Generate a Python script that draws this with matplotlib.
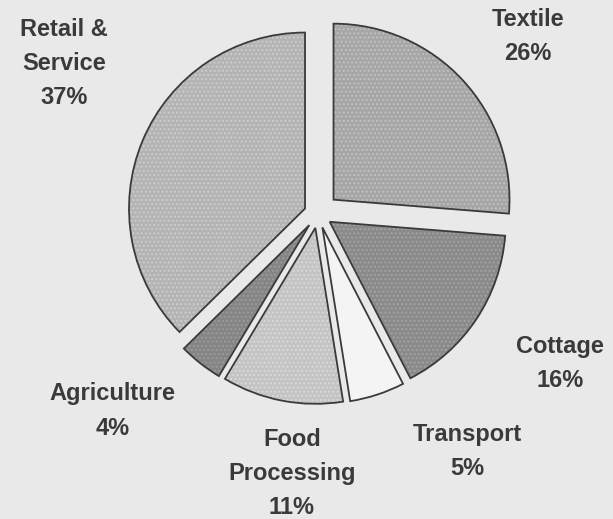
import matplotlib
matplotlib.use("Agg")
import matplotlib.pyplot as plt

# Sector shares (percent), clockwise from 12 o'clock
sectors = ["Textile", "Cottage", "Transport", "Food\nProcessing", "Agriculture", "Retail &\nService"]
shares = [26, 16, 5, 11, 4, 37]

# Fill tones of each wedge and the lighter tone of their dot screen
fills = ["#a6a6a6", "#8a8a8a", "#f4f4f4", "#c4c4c4", "#858585", "#b4b4b4"]
dots = ["#c2c2c2", "#a4a4a4", "#f4f4f4", "#dadada", "#9c9c9c", "#cecece"]

# Wedge offsets from the centre (fraction of the radius)
offsets = [0.12, 0.08, 0.08, 0.08, 0.08, 0.08]

# Label anchor points in axes fraction
label_pos = [(0.861, 0.930), (0.914, 0.300), (0.762, 0.130),
             (0.476, 0.088), (0.184, 0.208), (0.104, 0.878)]

W, H = 613, 519
fig = plt.figure(figsize=(W / 100, H / 100), dpi=100)
bg = "#e9e9e9"
fig.patch.set_facecolor(bg)
ax = fig.add_axes([0, 0, 1, 1])
ax.set_facecolor(bg)
plt.rcParams["hatch.linewidth"] = 0.9

# filled wedges with a fine dot screen
wedges, _ = ax.pie(
    shares,
    startangle=90,
    counterclock=False,
    colors=fills,
    explode=offsets,
    wedgeprops=dict(linewidth=0),
)
for w, d in zip(wedges, dots):
    w.set_edgecolor(d)
    w.set_hatch("....")
    w.set_linewidth(0)

# outlines on top
outl, _ = ax.pie(
    shares,
    startangle=90,
    counterclock=False,
    colors=["none"] * len(shares),
    explode=offsets,
    wedgeprops=dict(edgecolor="#3a3a3a", linewidth=1.3, facecolor="none"),
)

# centre of the pie at pixel (318, 214), radius about 176 px
r_px = 176.0
cx, cy = 318.0, 214.0
ax.set_xlim(-cx / r_px, (W - cx) / r_px)
ax.set_ylim(-(H - cy) / r_px, cy / r_px)
ax.set_aspect("equal", adjustable="datalim")
ax.axis("off")

for name, val, (px, py) in zip(sectors, shares, label_pos):
    ax.text(px, py, f"{name}\n{val}%", transform=ax.transAxes,
            ha="center", va="center", fontsize=17, fontweight="bold",
            family="Liberation Sans", color="#3a3a3a", linespacing=1.62)

fig.savefig("out.png", dpi=100, facecolor=bg)
